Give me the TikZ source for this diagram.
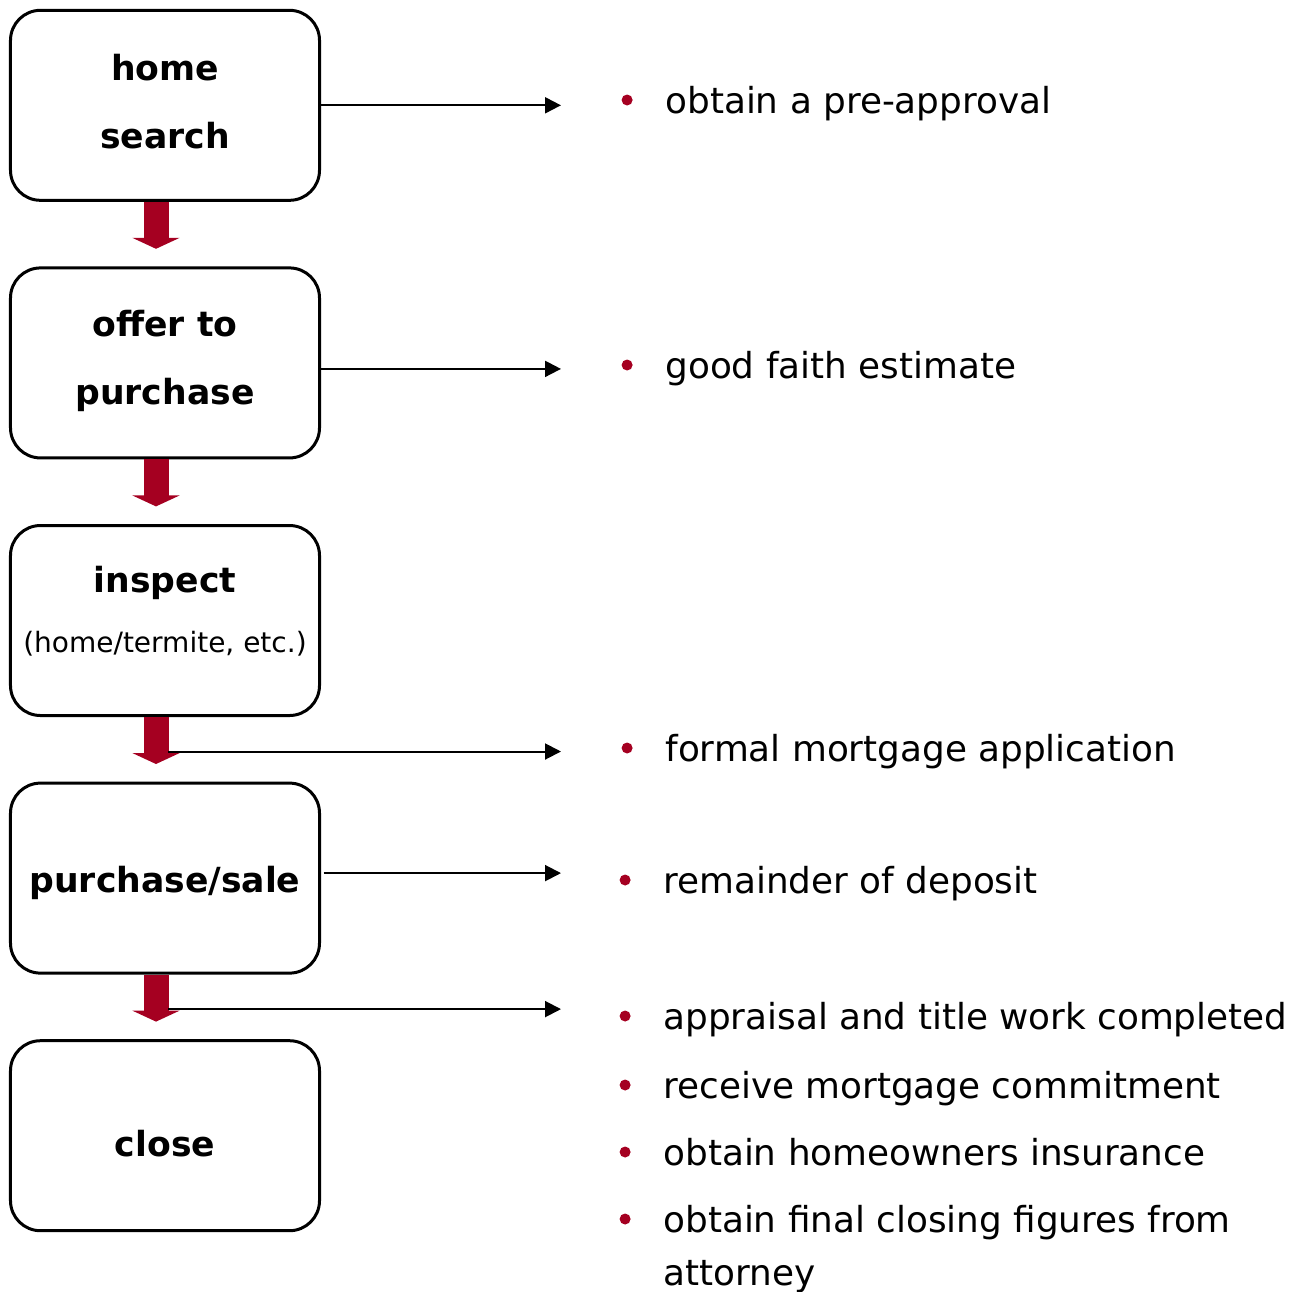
\documentclass[tikz,border=0pt]{standalone}
\usepackage{fontspec}
\setmainfont{DejaVu Sans}
\usetikzlibrary{matrix}
\usetikzlibrary{arrows.meta}

\definecolor{darkred}{HTML}{A50021}

\tikzset{
  box/.style={draw, line width=1.5pt, rounded corners=15pt, outer sep=0pt,
    minimum width=154.5pt, minimum height=95pt, align=center,
    font=\bfseries\fontsize{17.3pt}{34pt}\selectfont},
  item/.style={anchor=west, inner sep=0pt, text height=13pt, text depth=0pt,
    font=\fontsize{17.9pt}{26.5pt}\selectfont,
    label={[bulletdot,xshift=-16pt]left:{}}},
  more/.style={anchor=west, inner sep=0pt, text height=13pt, text depth=0pt,
    font=\fontsize{17.9pt}{26.5pt}\selectfont},
  bulletdot/.style={circle, fill=darkred, inner sep=0pt, minimum size=5.5pt},
  flow/.style={darkred, line width=12.5pt, -{Triangle[width=23.5pt,length=5.5pt]}},
  link/.style={line width=1pt, -{Triangle[width=8pt,length=8pt]}}
}

\begin{document}
\begin{tikzpicture}[x=0.5pt,y=-0.5pt]
  \useasboundingbox (0,0) rectangle (1306,1291);
  \matrix (m) [row sep=32.3pt] at (165,620.5)
  {
     \node[box,text depth=3.5pt] (home) {home\\search}; \\
     \node[box,text depth=5.5pt] (offer) {offer to\\purchase}; \\
     \node[box,text depth=10.9pt] (inspect) {inspect\\[-4pt]\mdseries\fontsize{14pt}{31pt}\selectfont(home/termite, etc.)}; \\
     \node[box,text height=18pt] (sale) {purchase/sale}; \\
     \node[box,text height=21pt] (close) {close}; \\};

  % steps down the left column
  \foreach \step in {home,offer,inspect,sale}
    \draw[flow] ([xshift=-4.5pt,yshift=-0.75pt]\step.south) -- ++(0,47);

  \coordinate (tips) at (561,0);
  \coordinate (j3) at ([xshift=1.5pt,yshift=-18pt]inspect.south);
  \coordinate (j4) at ([xshift=1.5pt,yshift=-18pt]sale.south);

  % what to do at each step
  \node[item] (preapp)   at (665,100)  {obtain a pre-approval};
  \node[item] (estimate) at (665,365)  {good faith estimate};
  \node[item] (formal)   at (665,748)  {formal mortgage application};
  \node[item] (deposit)  at (663,880)  {remainder of deposit};
  \node[item] (appraise) at (663,1016) {appraisal and title work completed};
  \node[item] (commit)   at (663,1085) {receive mortgage commitment};
  \node[item] (insure)   at (663,1152) {obtain homeowners insurance};
  \node[item] (figures)  at (663,1219) {obtain final closing figures from};
  \node[more] (attorney) at (663,1272) {attorney};

  \draw[link] (home.east) -- (home.east -| tips);
  \draw[link] ([yshift=-3pt]offer.east) -- ([yshift=-3pt]offer.east -| tips);
  \draw[link] (j3) -- (j3 -| tips);
  \draw[link] ([xshift=2pt,yshift=2.5pt]sale.east) -- ([yshift=2.5pt]sale.east -| tips);
  \draw[link] (j4) -- (j4 -| tips);
\end{tikzpicture}
\end{document}
